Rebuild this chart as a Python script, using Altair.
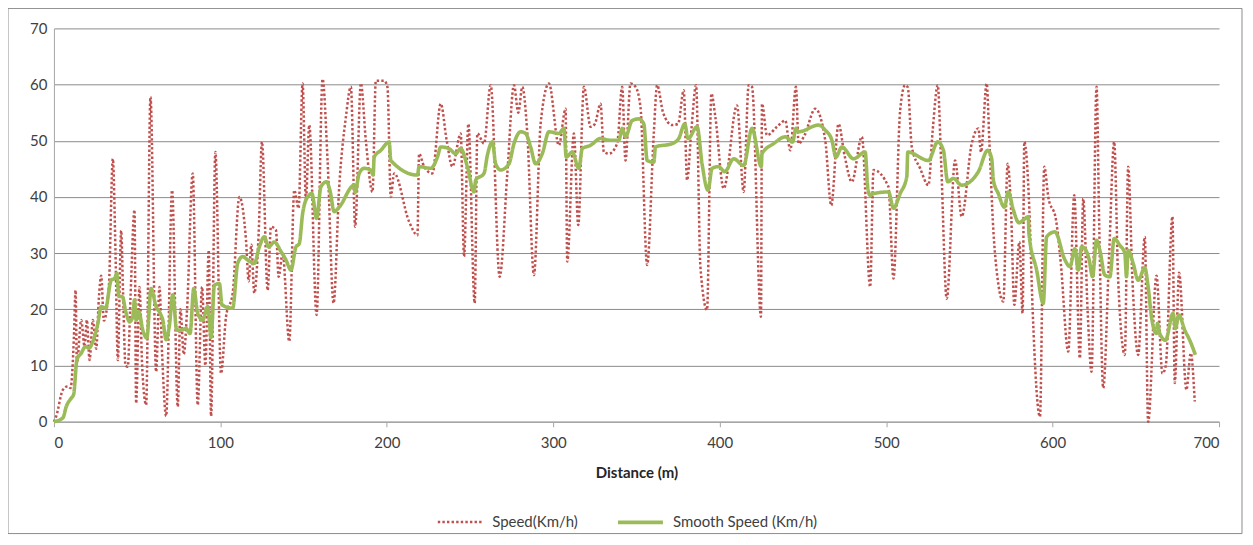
import altair as alt
import pandas as pd

# ---- data ----
speed_dist = [0, 1.4, 5.4, 8.4, 10, 12, 13, 13.8, 16.4, 18.4, 19.8, 21.4, 23.4, 25.4, 27, 28.4, 30, 33,
              35.4, 37, 38.4, 40.4, 41.5, 43, 44.4, 46, 48.4, 49.4, 51.4, 53, 55.4, 58, 61.4, 63.4, 65,
              67.4, 71, 74.4, 76, 78, 80, 83.4, 86.4, 89, 91, 93, 94.4, 97, 100.4, 103.4, 107.4, 111.4,
              115.4, 117, 118.6, 120.4, 123, 125, 128.4, 130.4, 133.4, 135, 137.4, 141.4, 144.4, 147,
              149.4, 151.4, 153.4, 157.8, 161.4, 164.4, 168, 171.4, 175.4, 178.4, 181, 184.4, 187.4,
              191.4, 193.4, 198.4, 200.4, 202.4, 204.4, 213.4, 218.4, 219.4, 222.4, 227.4, 232.4, 236,
              239.4, 244.4, 246.4, 249, 252.8, 254.4, 258.4, 262.4, 267.8, 272.4, 276.4, 279, 281.4,
              284.4, 288.4, 292.4, 297.4, 303.4, 307.4, 308.4, 312.4, 315, 318.4, 322.4, 325, 328.4,
              330.4, 333.4, 338.4, 341.4, 343.4, 346.4, 349.4, 352.4, 356.4, 360.4, 362.4, 366, 371.4,
              375, 378.4, 380.4, 383, 385.8, 388.4, 392.4, 395, 397.4, 402.4, 410.4, 414.4, 417.4,
              419.4, 424.8, 425.4, 428.4, 434.4, 439.4, 442.4, 445.8, 447.4, 451, 457.4, 463.4, 467,
              471.4, 475, 479.4, 485.4, 490.4, 492.4, 501.4, 504.4, 508.4, 511.4, 513, 515.4, 520.4,
              525.4, 528, 531, 533, 536.4, 541.4, 545.4, 551.4, 555.4, 557, 560.4, 562, 564.4, 566,
              570.4, 573, 575, 577, 580, 582, 583, 586, 588, 592.4, 595, 597.4, 602, 605, 609.4, 613,
              616.4, 618.4, 621, 623.4, 626.4, 628, 630.4, 634, 637, 639.4, 643.4, 645.4, 648, 651.4,
              655.4, 657.4, 662.4, 666, 668, 672, 673.4, 676, 680.4, 683, 685.4]
speed_vals = [0, 1, 5.7, 6.3, 6, 15, 23.4, 10.4, 18.1, 13.4, 18.1, 11, 18.1, 13, 22, 26, 18, 24,
              46.8, 30, 11, 34, 23.4, 10, 9.8, 22, 37.7, 3.3, 24, 10, 3, 57.8, 8.9, 24, 12,
              1, 41.2, 2.7, 20, 12, 20, 44.2, 3, 24, 10, 30.5, 1, 48, 8.6, 18.7, 22.9, 40,
              32.3, 25, 31.5, 22.9, 33.5, 49.8, 23.4, 34.7, 34.1, 25.8, 30, 14.3, 41.2, 38,
              60.2, 39.4, 52.8, 19, 61, 46.5, 21.1, 41.8, 54.2, 59.6, 34.7, 60.2, 50,
              40.9, 60.7, 60.7, 59.5, 40, 44.2, 35.6, 33.2, 47.7, 45.4, 44.2, 56.6, 50,
              45.4, 51.3, 29.4, 53, 21.1, 51.3, 49.5, 59.9, 25.8, 44.2, 59.9, 55, 59.6,
              51.3, 26.1, 53, 60.2, 49.2, 55.7, 28.5, 51.3, 35, 59.6, 52.5, 53, 56.6,
              48, 47.7, 49.5, 59.6, 46.5, 60.2, 59.6, 56, 27.9, 51.3, 59.9, 55, 52.8,
              53, 59, 43, 52, 59.9, 27.6, 19.9, 58.4, 54.2, 41.5, 56.3, 40.9, 59.9,
              59.6, 18.7, 56.6, 51, 52.5, 53.6, 48.3, 59.6, 49.5, 51, 55.7, 50.1, 38.5,
              53, 47.4, 42.7, 50.7, 24, 44.8, 41.8, 25.5, 55.4, 59.9, 59.5, 48.9, 45.1,
              42.1, 52, 59.9, 46.5, 21.9, 46.5, 36.5, 49.5, 52.2, 48, 60.2, 50, 34.1, 28,
              21.4, 45.9, 38, 20.8, 32, 19.3, 49.8, 38, 20, 0.9, 45.4, 40, 36, 28, 12.5, 40.3,
              11.3, 39.7, 20, 8.9, 59.6, 35, 6, 30, 49.8, 25.2, 11.9, 45.4, 25, 11.9,
              32.9, 0, 26, 8.6, 10, 36.5, 6.9, 26.5, 5.7, 12.2, 3.6]

smooth_dist = [0, 5.4, 7.4, 10.4, 11.8, 13.8, 16.4, 19, 21, 23.4, 26.4, 28.4, 31, 34.4, 36.4, 37.8, 39,
               41, 43.4, 45.4, 47.4, 48.4, 49.4, 51, 53.4, 55.8, 58.4, 61.4, 63.8, 65.4, 67.4, 69.4,
               71.4, 73.8, 76.4, 79.4, 81.8, 84, 86.4, 89.4, 92.4, 94.4, 96.4, 99.4, 101, 107.4,
               110.4, 113.4, 116.4, 120.4, 123.4, 126.4, 129, 132.4, 136.4, 139.4, 142.4, 145.4,
               147.4, 149.4, 152.4, 155, 157.8, 160.4, 163.8, 165.8, 168.4, 171.4, 180.4, 181,
               183.4, 186.4, 190.4, 191.8, 192.4, 196.4, 201.4, 202.4, 218.4, 219.4, 226.4, 230.4,
               232.4, 237.4, 241.4, 244.4, 248.4, 252.4, 253.4, 258.4, 260.4, 263.4, 265.4, 268.4,
               273.4, 276.4, 280.4, 283.4, 286.4, 289.4, 293.4, 297.4, 303.4, 306.4, 307.8, 311.4,
               315.4, 317.4, 322.4, 328.4, 334.4, 339.4, 341.4, 343.4, 347.4, 351.4, 354.4, 356.4,
               360.4, 361.4, 371.4, 375.4, 379, 381, 386.4, 389.4, 393, 395.4, 399.4, 403, 408.4,
               414.4, 419.4, 425, 425.4, 432.4, 439.4, 443.8, 445.8, 447.4, 459.4, 463.4, 467.4,
               469.8, 473.4, 480.4, 487.4, 489, 490.4, 492.4, 501.4, 504.4, 508.4, 512.4, 513,
               525.4, 531, 534.4, 537, 540.4, 545.4, 555.4, 561, 563.4, 564.4, 567.4, 571, 573.4,
               576.4, 579.8, 582.4, 585.4, 585.8, 590.4, 594.4, 596.4, 601.4, 607.4, 610.4, 613.4,
               615.4, 617.4, 619.4, 622, 624, 626.4, 628.4, 631.4, 634.4, 637, 640.4, 643.4, 644.4,
               645.4, 648.4, 651.4, 655.4, 657.4, 659.4, 662.4, 663, 664.4, 667.8, 672.4, 673.8,
               675.8, 679.4, 682.4, 685.8]
smooth_vals = [0, 0.7, 2.7, 4.2, 4.8, 11, 12.2, 13.4, 13.1, 14.3, 17.5, 20.5, 20.2, 25.2, 25.5, 26.4, 22.3,
               22.3, 19.3, 17.8, 18.7, 21.7, 18.1, 19.6, 16.3, 14.9, 23.7, 20.5, 19.3, 18.1, 14.6, 17.2,
               22.6, 16.3, 16.3, 16.6, 15.7, 23.7, 19.3, 18.1, 20.5, 15, 24.3, 24.6, 20.8, 20.2,
               28.2, 29.4, 28.8, 28.2, 31.1, 32.9, 31.1, 32, 30.3, 28.8, 27, 31.1,
               31.7, 37, 40, 40.6, 36.2, 41.8, 42.7, 41.2, 37.4, 38.2, 42.1, 40.8,
               44.2, 45.1, 44.8, 43.9, 47.1, 48.3, 49.8, 46.5, 43.9, 45.4, 45.1, 47.1,
               48.9, 48.6, 47.7, 48.6, 45.4, 40.9, 43, 44.2, 47.4, 49.8, 45.9, 44.8,
               45.9, 49.5, 51.6, 51.3, 48.9, 45.9, 47.7, 51.6, 51.3, 52.2, 47.1, 48,
               45.1, 48.6, 49.2, 50.4, 50.1, 50.1, 52.2, 50.7, 53.6, 53.9, 53, 46.5,
               46.2, 48.9, 49.5, 50.4, 53, 50.4, 52.5, 45.9, 41.2, 45.1, 45.4, 44.5, 46.8,
               45.6, 52.2, 45.4, 47.7, 49.5, 50.7, 49.8, 52.2, 51.6, 52.8, 51.9, 50.1,
               47.1, 48.9, 46.8, 48, 41.5, 40.3, 40.6, 40.9, 38, 40.6, 43.6, 48,
               46.5, 49.8, 48.3, 42.7, 43.3, 42.1, 44.5, 48.3, 46.8, 43, 40.6, 38.2, 40.9,
               37.7, 35.4, 35.9, 36.5, 33.5, 27, 21.1, 32.9, 33.8, 28.8, 27.6, 30.8,
               27, 31.1, 30.8, 28.8, 25.8, 32.3, 30.5, 26.1, 25.8, 32.6, 31.4, 30, 25.8,
               30.5, 28.2, 25.2, 27.4, 24, 18.7, 15.7, 17.5, 15.7, 14.5, 19.3, 16.6,
               19, 16.3, 14.5, 11.9]

series_names = ["Speed(Km/h)", "Smooth Speed (Km/h)"]
series_colors = ["#C0504D", "#9BBB59"]
x_ticks = [0, 100, 200, 300, 400, 500, 600, 700]
y_ticks = [0, 10, 20, 30, 40, 50, 60, 70]

df = pd.concat([
    pd.DataFrame({"d": speed_dist, "v": speed_vals, "series": series_names[0], "o": range(len(speed_dist))}),
    pd.DataFrame({"d": smooth_dist, "v": smooth_vals, "series": series_names[1], "o": range(len(smooth_dist))}),
])

FONT = "Lato"
W, H = 1167, 394


def leg():
    return alt.Legend(title=None, orient="none", direction="horizontal",
                      legendX=383, legendY=470, symbolType="stroke",
                      symbolSize=2025, labelFontSize=15, labelColor="#404040",
                      labelOffset=8, columnPadding=32, padding=0, labelFont=FONT)


lines = alt.Chart(df).mark_line(interpolate="monotone").encode(
    x=alt.X("d:Q", title="Distance (m)",
            scale=alt.Scale(domain=[0, 700], nice=False, zero=True),
            axis=alt.Axis(values=x_ticks, grid=False, ticks=True, tickSize=5,
                          tickColor="#A6A6A6", domainColor="#A6A6A6", domainWidth=1.5,
                          labelPadding=9, titlePadding=15, labelFontSize=15,
                          titleFontSize=15, titleFontWeight="bold", titleColor="#262626")),
    y=alt.Y("v:Q", title=None,
            scale=alt.Scale(domain=[0, 70], nice=False),
            axis=alt.Axis(values=y_ticks, grid=True, gridColor="#8C8C8C", gridWidth=1,
                          ticks=False, domainColor="#A6A6A6", labelPadding=7,
                          labelFontSize=15)),
    color=alt.Color("series:N", scale=alt.Scale(domain=series_names, range=series_colors),
                    legend=leg()),
    strokeDash=alt.StrokeDash("series:N", scale=alt.Scale(domain=series_names,
                                                           range=[[2.4, 2.2], [1, 0]]),
                              legend=leg()),
    strokeWidth=alt.StrokeWidth("series:N", scale=alt.Scale(domain=series_names, range=[2.5, 3.6]),
                                legend=leg()),
    order="o:Q",
)

frame = alt.Chart(alt.Data(values=[{"a": 1}])).mark_rect(
    filled=False, stroke="#8C8C8C", strokeWidth=1
).encode(
    x=alt.value(-46), x2=alt.value(W + 23), y=alt.value(-20), y2=alt.value(H + 112)
)

chart = alt.layer(lines, frame).properties(
    width=W, height=H,
    padding={"left": 46, "top": 20, "right": 26, "bottom": 115},
    autosize=alt.AutoSizeParams(type="none"),
).configure_view(stroke=None).configure_axis(
    labelFont=FONT, titleFont=FONT, labelColor="#404040"
).configure_legend(labelFont=FONT)

chart.save("out.html", embed_options={"renderer": "svg", "actions": False})
